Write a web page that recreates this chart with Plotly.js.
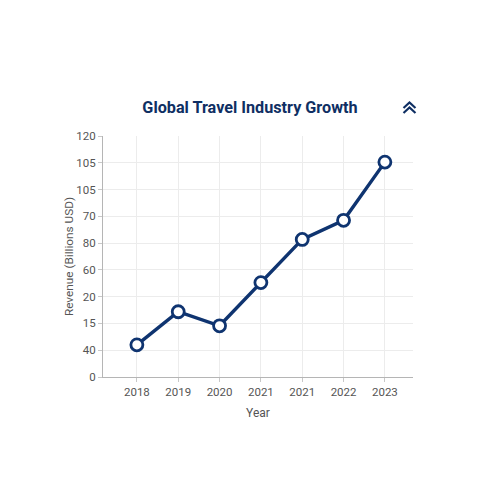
<!DOCTYPE html>
<html>
<head>
<meta charset="utf-8">
<script src="https://cdn.plot.ly/plotly-3.0.1.min.js"></script>
<style>html,body{margin:0;padding:0;background:#fff}#chart{width:500px;height:500px}</style>
</head>
<body>
<div id="chart"></div>
<script>
// Data
const yearLabels = ["2018", "2019", "2020", "2021", "2021", "2022", "2023"];
const revenue = [16, 32.5, 25.5, 47, 68.5, 78, 107];
const yTickLabels = ["0", "40", "15", "20", "60", "80", "70", "105", "105", "120"];

const xIdx = yearLabels.map((_, i) => i);
const yTickVals = yTickLabels.map((_, i) => i * 120 / (yTickLabels.length - 1));

const navy = "#0f3470";
const L = 103, R = 413, T = 136, B = 377;
const px = v => (v - L) / (R - L);
const py = v => (B - v) / (B - T);

function chevron(x0, x1, yTop, yBot) {
  const xm = (x0 + x1) / 2;
  return {
    type: "path", xref: "paper", yref: "paper",
    path: `M ${px(x0)},${py(yBot)} L ${px(xm)},${py(yTop)} L ${px(x1)},${py(yBot)}`,
    line: {color: "#0f2f63", width: 2.2}
  };
}

const trace = {
  x: xIdx,
  y: revenue,
  type: "scatter",
  mode: "lines+markers",
  line: {color: navy, width: 3.4},
  marker: {size: 12, color: "#ffffff", line: {color: navy, width: 2.8}},
  hoverinfo: "skip"
};

const layout = {
  width: 500, height: 500,
  paper_bgcolor: "#ffffff", plot_bgcolor: "#ffffff",
  margin: {l: L, r: 500 - R, t: T, b: 500 - B},
  showlegend: false,
  font: {family: "Roboto, sans-serif", color: "#555"},
  title: {
    text: "<b>Global Travel Industry Growth</b>",
    font: {family: "Roboto, sans-serif", size: 16.2, color: "#0f2f63"},
    x: 0.5, xanchor: "center", y: 1 - 107 / 500, yanchor: "middle"
  },
  xaxis: {
    range: [-0.82, 6.68],
    tickvals: xIdx, ticktext: yearLabels,
    showgrid: true, gridcolor: "#ececec", gridwidth: 1,
    showline: true, linecolor: "#b5b5b5", linewidth: 1,
    ticks: "outside", ticklen: 4, tickcolor: "#c8c8c8",
    tickfont: {size: 11.5, color: "#555"},
    zeroline: false,
    title: {text: "Year", font: {size: 12, color: "#555"}, standoff: 10}
  },
  yaxis: {
    range: [0, 120],
    tickvals: yTickVals, ticktext: yTickLabels,
    showgrid: true, gridcolor: "#ececec", gridwidth: 1,
    showline: true, linecolor: "#b5b5b5", linewidth: 1,
    ticks: "outside", ticklen: 4, tickcolor: "#c8c8c8",
    tickfont: {size: 11.5, color: "#555"},
    zeroline: false,
    title: {text: "Revenue (Billions USD)", font: {size: 11.8, color: "#555"}, standoff: 0}
  },
  shapes: [
    chevron(403.5, 415.5, 102.5, 108),
    chevron(403.5, 415.5, 107.5, 113)
  ]
};

Plotly.newPlot("chart", [trace], layout, {displayModeBar: false, staticPlot: true});
</script>
</body>
</html>
